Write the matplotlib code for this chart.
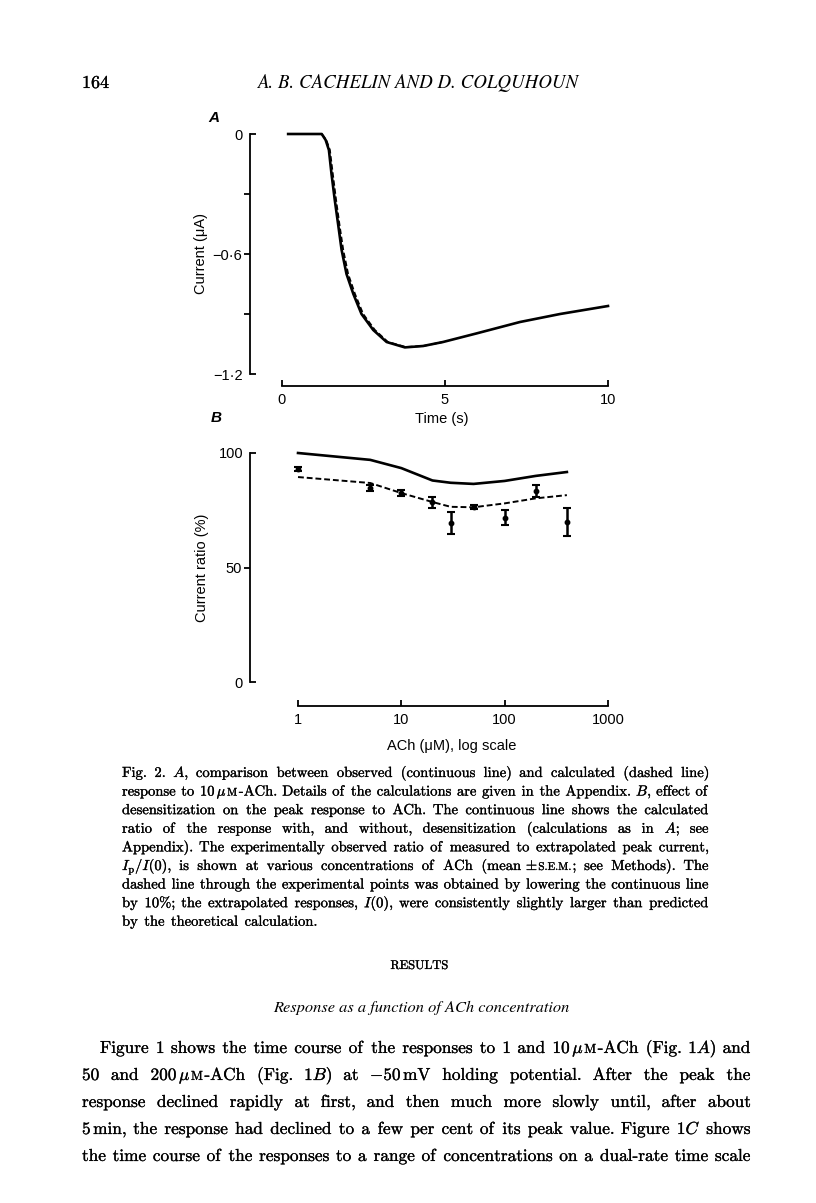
import numpy as np
import matplotlib
matplotlib.use('Agg')
import matplotlib.pyplot as plt
import matplotlib.patheffects as pe
from matplotlib.ticker import NullLocator

plt.rcParams['font.family'] = ['Liberation Sans', 'DejaVu Sans']
plt.rcParams['mathtext.fontset'] = 'cm'

# --- panel A: current (uA) against time (s), observed and calculated ---
t_obs = [0.19, 1.22, 1.34, 1.44, 1.52, 1.62, 1.73, 1.83, 1.98, 2.19, 2.44, 2.80,
         3.21, 3.77, 4.33, 4.94, 5.97, 7.30, 8.53, 10.0]
i_obs = [0.0, 0.0, -0.03, -0.08, -0.20, -0.33, -0.46, -0.58, -0.70, -0.80, -0.90, -0.98,
         -1.04, -1.067, -1.06, -1.04, -0.997, -0.94, -0.90, -0.86]
t_calc = [1.22, 1.36, 1.47, 1.56, 1.66, 1.77, 1.88, 2.03, 2.24, 2.49, 2.85,
          3.25, 3.80, 4.33, 4.94]
i_calc = [0.0, -0.03, -0.08, -0.20, -0.33, -0.46, -0.58, -0.70, -0.80, -0.90, -0.98,
          -1.04, -1.065, -1.06, -1.04]

# --- panel B: current ratio (%) against ACh concentration (uM) ---
conc_line = [1, 5, 10, 20, 30, 50, 100, 200, 400]
ratio_calc = [100, 97, 93.4, 88, 87, 86.5, 87.8, 90, 91.7]
ratio_lowered = [89.5, 86.9, 82.5, 78.6, 76.5, 76.3, 78, 80.2, 81.6]
conc_pts = [1, 5, 10, 20, 30, 50, 100, 200, 400]
ratio_pts = [93, 84.7, 82.5, 78.6, 69.4, 76.4, 71.7, 83.4, 69.8]
ratio_sem = [1.0, 1.2, 1.2, 2.4, 4.9, 0.7, 3.2, 2.5, 6.0]

W, H = 816, 1203
fig = plt.figure(figsize=(W / 100, H / 100), dpi=100)


def fx(px):
    return px / W


def fy(py):
    return 1 - py / H


lw_axis = 1.3
tick_size = 10.5
ink = [pe.withStroke(linewidth=0.2, foreground='black')]

# panel A
axA = fig.add_axes([fx(250), fy(374), (608 - 250) / W, (374 - 134) / H])
axA.plot(t_obs, i_obs, color='black', lw=1.9, clip_on=False)
axA.plot(t_calc, i_calc, color='black', lw=1.3, ls=(0, (3, 1.5)), clip_on=False)
axA.set_xlim(-0.98, 10)
axA.set_ylim(-1.2, 0)
for s in ['top', 'right']:
    axA.spines[s].set_visible(False)
axA.spines['bottom'].set_position(('outward', 8.6))
axA.spines['bottom'].set_bounds(0, 10)
axA.spines['left'].set_bounds(-1.2, 0)
for s in ['bottom', 'left']:
    axA.spines[s].set_linewidth(lw_axis)
axA.set_xticks([0, 5, 10], labels=['0', '5', '10'])
axA.tick_params(axis='x', direction='in', length=4, width=lw_axis, pad=5, labelsize=tick_size)
axA.set_yticks([-0.9, -0.6, -0.3], labels=['', '\u22120\u00b76', ''])
axA.set_yticks([-1.2, 0], labels=['\u22121\u00b72', '0'], minor=True)
axA.tick_params(axis='y', which='major', direction='out', length=4, width=lw_axis, pad=2, labelsize=tick_size)
axA.tick_params(axis='y', which='minor', direction='in', length=4, width=lw_axis, pad=5, labelsize=tick_size)
axA.set_ylabel('Current (\u03bcA)', fontsize=tick_size)
axA.yaxis.set_label_coords(-0.117, 0.5)
axA.set_xlabel('Time (s)', fontsize=tick_size)
axA.xaxis.set_label_coords(0.536, -0.158)

# panel B
axB = fig.add_axes([fx(250), fy(682), (608 - 250) / W, (682 - 453) / H])
axB.set_xscale('log')
axB.plot(conc_line, ratio_calc, color='black', lw=1.9, clip_on=False)
axB.plot(conc_line, ratio_lowered, color='black', lw=1.4, ls=(0, (3, 1.5)), clip_on=False)
axB.errorbar(conc_pts, ratio_pts, yerr=ratio_sem, fmt='o', ms=3.2, color='black',
             elinewidth=1.8, capsize=2.6, capthick=1.5, clip_on=False)
axB.set_xlim(0.343, 1000)
axB.set_ylim(0, 100)
for s in ['top', 'right']:
    axB.spines[s].set_visible(False)
axB.spines['bottom'].set_position(('outward', 17.3))
axB.spines['bottom'].set_bounds(1, 1000)
axB.spines['left'].set_bounds(0, 100)
for s in ['bottom', 'left']:
    axB.spines[s].set_linewidth(lw_axis)
axB.set_xticks([1, 10, 100, 1000], labels=['1', '10', '100', '1000'])
axB.xaxis.set_minor_locator(NullLocator())
axB.tick_params(axis='x', direction='in', length=4, width=lw_axis, pad=5, labelsize=tick_size)
axB.set_yticks([50], labels=['50'])
axB.set_yticks([0, 100], labels=['0', '100'], minor=True)
axB.tick_params(axis='y', which='major', direction='out', length=4, width=lw_axis, pad=2, labelsize=tick_size)
axB.tick_params(axis='y', which='minor', direction='in', length=4, width=lw_axis, pad=5, labelsize=tick_size)
axB.set_ylabel('Current ratio (%)', fontsize=tick_size)
axB.yaxis.set_label_coords(-0.115, 0.5)
axB.set_xlabel('ACh (\u03bcM), log scale', fontsize=tick_size)
axB.xaxis.set_label_coords(0.564, -0.249)

fig.text(fx(214), fy(118), 'A', fontsize=11, style='italic', weight='bold', ha='center', va='center')
fig.text(fx(216), fy(418), 'B', fontsize=11, style='italic', weight='bold', ha='center', va='center')

# --- page text ---
# words are split on spaces; '|' splits a word into pieces, '~' marks a small-caps piece.
# every piece goes through mathtext (cm fontset) so all baselines line up.
renderer = fig.canvas.get_renderer()
SERIF = 'cmr10'
SC = 0.76
SPACE = 0.27
NUL = r'$\,\!$'


def pieces(word, size):
    out = []
    for p in word.split('|'):
        sz = size
        if p.startswith('~'):
            p, sz = p[1:], size * SC
        if '$' not in p:
            p = p + NUL
        out.append((p, sz))
    return out


def word_width(word, size):
    total = 0
    for txt, sz in pieces(word, size):
        t = fig.text(0, 0, txt, fontsize=sz, family=SERIF)
        total += t.get_window_extent(renderer).width
        t.remove()
    return total


def fit_size(lines, ref=10.0):
    # largest size at which every justified line still has normal spaces
    space = ref * 100 / 72 * SPACE
    worst = 0
    for words, avail in lines:
        ww = [word_width(w, ref) for w in words]
        worst = max(worst, (sum(ww) + space * (len(ww) - 1)) / avail)
    return ref / worst


def put_line(words, x0, x1, ybase, size, justify=True, ha='left'):
    widths = [word_width(w, size) for w in words]
    if justify and len(words) > 1:
        gap = (x1 - x0 - sum(widths)) / (len(words) - 1)
    else:
        gap = size * 100 / 72 * 0.33
    if ha == 'center':
        x0 = x0 - (sum(widths) + gap * (len(words) - 1)) / 2
    x = x0
    for w, ww in zip(words, widths):
        xp = x
        for txt, sz in pieces(w, size):
            t = fig.text(fx(xp), fy(ybase), txt, fontsize=sz, family=SERIF, ha='left',
                         va='baseline', path_effects=ink)
            xp += t.get_window_extent(renderer).width
        x += ww + gap


put_line(['164'], 82, 0, 88, 13, justify=False)
fig.text(fx(419), fy(88), 'A. B. CACHELIN AND D. COLQUHOUN', fontsize=13.6,
         family='STIXGeneral', style='italic', ha='center', va='baseline')

caption = [
    r'Fig. 2. $\mathit{A}$, comparison between observed (continuous line) and calculated (dashed line)',
    r'response to 10$\,\mu$|~M|-ACh. Details of the calculations are given in the Appendix. $\mathit{B}$, effect of',
    r'desensitization on the peak response to ACh. The continuous line shows the calculated',
    r'ratio of the response with, and without, desensitization (calculations as in $\mathit{A}$; see',
    r'Appendix). The experimentally observed ratio of measured to extrapolated peak current,',
    r'$I_\mathrm{p}/I(0)$, is shown at various concentrations of ACh (mean$\,\pm\,$|~S.E.M.|; see Methods). The',
    r'dashed line through the experimental points was obtained by lowering the continuous line',
    r'by 10%; the extrapolated responses, $I(0)$, were consistently slightly larger than predicted',
    r'by the theoretical calculation.',
]
cap_x0, cap_x1 = 122, 710
cap_size = fit_size([(c.split(' '), cap_x1 - cap_x0) for c in caption[:-1]])
for k, line in enumerate(caption):
    last = k == len(caption) - 1
    put_line(line.split(' '), cap_x0, cap_x1, 777 + k * 18.6, cap_size, justify=not last)

put_line(['RESULTS'], 420, 0, 969, 9, justify=False, ha='center')
fig.text(fx(421), fy(1012), 'Response as a function of ACh concentration', fontsize=11.8,
         family='STIXGeneral', style='italic', ha='center', va='baseline')

body = [
    r'Figure 1 shows the time course of the responses to 1 and 10$\,\mu$|~M|-ACh (Fig. 1$\mathit{A}$) and',
    r'50 and 200$\,\mu$|~M|-ACh (Fig. 1$\mathit{B}$) at $-$50$\,$mV holding potential. After the peak the',
    r'response declined rapidly at first, and then much more slowly until, after about',
    r'5$\,$min, the response had declined to a few per cent of its peak value. Figure 1$\mathit{C}$ shows',
    r'the time course of the responses to a range of concentrations on a dual-rate time scale',
]
body_x0, body_x1, body_indent = 82, 752, 18
body_size = fit_size([(b.split(' '), body_x1 - body_x0 - (body_indent if k == 0 else 0))
                      for k, b in enumerate(body)])
for k, line in enumerate(body):
    x0 = body_x0 + body_indent if k == 0 else body_x0
    put_line(line.split(' '), x0, body_x1, 1053 + k * 27, body_size)

fig.savefig('out.png', dpi=100, facecolor='white')
